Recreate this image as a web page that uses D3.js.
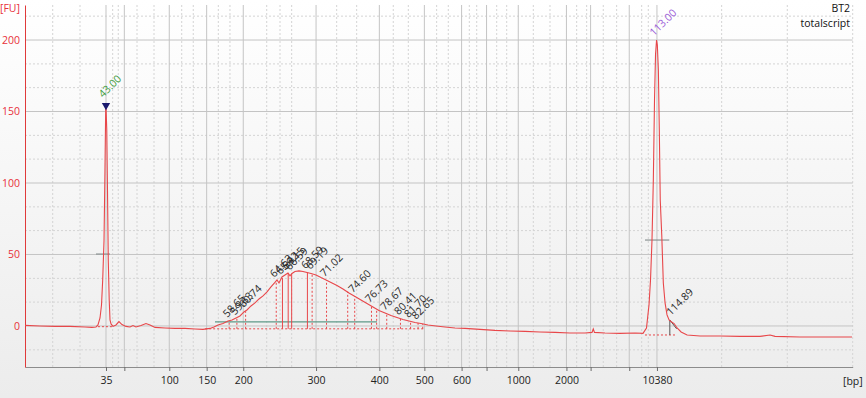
<!DOCTYPE html>
<html>
<head>
<meta charset="utf-8">
<script src="https://cdn.jsdelivr.net/npm/d3@7"></script>
<style>
body { margin: 0; background: #f0f0f0; }
text { font-family: "Open Sans", "DejaVu Sans", sans-serif; }
</style>
</head>
<body>
<script>
// electropherogram trace: migration time [s] and fluorescence [FU]
const traceTime = [32.71, 34.61, 36.52, 38.43, 40.33, 41.22, 41.73, 41.98, 42.24, 42.43, 42.58, 42.75, 42.87, 42.96, 43.00,
    43.10, 43.19, 43.29, 43.41, 43.51, 43.64, 43.89, 44.27, 44.65, 45.03, 45.54, 46.05, 46.43, 46.81, 47.45, 48.08, 48.59,
    49.23, 50.50, 51.77, 53.04, 54.31, 55.32, 56.21, 56.72, 57.23, 57.86, 58.50, 59.01, 59.52, 60.02, 60.53, 60.91, 61.42,
    61.93, 62.44, 62.95, 63.46, 63.96, 64.41, 64.73, 64.98, 65.36, 65.74, 66.12, 66.38, 66.63, 67.01, 67.52, 68.03, 68.54,
    69.05, 69.68, 70.32, 70.96, 71.59, 72.35, 73.11, 73.87, 74.64, 75.40, 76.16, 76.92, 77.68, 78.45, 79.21, 79.97, 80.73,
    81.50, 82.26, 83.02, 83.91, 84.93, 86.07, 87.34, 88.61, 90.52, 92.42, 94.33, 96.23, 98.14, 100.04, 101.95, 103.86,
    104.75, 104.91, 105.06, 106.40, 108.30, 110.21, 111.23, 111.67, 111.99, 112.18, 112.37, 112.54, 112.69, 112.82,
    112.95, 113.05, 113.18, 113.30, 113.42, 113.61, 113.81, 114.03, 114.28, 114.54, 114.86, 115.18, 115.56, 116.07,
    116.83, 118.48, 121.02, 123.55, 126.09, 127.36, 128.00, 131.17, 134.35, 137.78]
const traceFU = [0.4, 0.0, -0.3, -0.3, -0.7, -1.0, -0.7, 0.7, 5.6, 14.7, 32, 60, 109, 151, 154,
    137, 95, 46, 18, 4.2, 1.4, -0.3, 0.7, 3.1, 1.0, -0.3, -0.7, 0.3, -0.7, 0.3, 1.7, 0.7,
    -1.0, -1.4, -1.7, -1.7, -2.1, -2.4, -1.7, -0.7, 0.7, 1.7, 3.5, 4.2, 5.6, 7.0, 9.8, 11.2, 14.0,
    16.1, 18.9, 21.0, 23.8, 27.3, 30.1, 32.2, 30.1, 34.3, 35.7, 37.1, 35.0, 36.7, 38.1, 38.5, 38.1, 37.4,
    36.7, 35.7, 33.9, 32.2, 30.4, 28.3, 25.9, 23.1, 20.6, 18.2, 15.7, 13.3, 10.8, 9.1, 7.3, 5.9, 4.5,
    3.5, 2.4, 1.7, 0.7, 0.0, -0.7, -1.4, -1.7, -2.4, -3.1, -3.5, -3.8, -4.2, -4.5, -4.9, -4.9,
    -4.5, -2.1, -4.5, -4.9, -5.2, -4.9, -5.2, -1.4, 14.7, 32, 60, 102, 158, 190,
    200, 196.5, 179, 137, 88, 63.6, 30, 16.1, 7.7, 4.2, 2.8, 1.7, -1.4, -4.2,
    -6.3, -7.0, -7.0, -7.3, -7.3, -6.3, -7.3, -7.7, -7.7, -7.7]

// bp axis: ladder sizes placed at their migration times
const bpTickTime = [43.00, 45.33, 51.04, 55.79, 60.44, 69.69, 77.73, 83.45, 88.18, 91.35, 95.38, 101.50, 104.57, 109.48, 113.00]
const bpTickLabel = ["35", "", "100", "150", "200", "300", "400", "500", "600", "", "1000", "2000", "", "", "10380"]
const bpMinorTime = [36.23, 39.70, 43.85, 44.56, 46.94, 49.10, 52.62, 54.09, 57.27, 58.75, 63.42, 65.11, 66.59,
    72.31, 74.85, 79.50, 81.41, 85.01, 86.49, 89.16, 90.10, 92.64, 93.91, 97.29, 99.41, 102.80, 104.07,
    106.18, 107.88, 111.06, 111.90, 121.22, 129.56, 137.87]
const fuTicks = [0, 50, 100, 150, 200]
const fuMinor = [-16.7, 16.7, 33.3, 66.7, 83.3, 116.7, 133.3, 166.7, 183.3, 216.7]

// ladder markers
const markerTime = [43.00, 113.00]
const markerFU = [155, 201]
const markerLabel = ["43.00", "113.00"]

// smear peaks
const peakTime = [58.65, 59.63, 60.74, 64.63, 65.42, 66.15, 66.59, 68.59, 69.19, 71.02, 74.60, 76.73, 78.67, 80.41, 81.70, 82.65]
const peakFU = [3.5, 5.3, 10.3, 31.5, 33.5, 36.8, 36.5, 37.4, 37.0, 32.0, 20.8, 13.9, 8.6, 5.2, 3.3, 2.1]
const boundaryTime = [73.71, 77.39, 83.24]
const boundaryFU = [24.0, 11.5, 1.5]
const minorPeakTime = 114.89
const minorPeakFU = 4.2

// region lines: [start, end, FU]
const regionLines = [[56.85, 77.43, 2.8], [41.73, 43.51, 50.3], [111.48, 114.57, 60.1]]
const baselines = [[55.6, 83.3, -2.0], [41.98, 44.0, -0.5], [111.48, 115.5, -6.3]]

function main(){
    const width = 866
    const height = 398

    let svg = d3.select("body")
        .append('svg')
        .attr('width', width)
        .attr('height', height)

    let grad = svg.append('defs').append('linearGradient')
        .attr('id', 'bg')
        .attr('x1', 0).attr('y1', 0).attr('x2', 0).attr('y2', 1)
    grad.append('stop').attr('offset', '0%').attr('stop-color', '#ffffff')
    grad.append('stop').attr('offset', '100%').attr('stop-color', '#ececec')

    svg.append('rect')
        .attr('width', width)
        .attr('height', height)
        .attr('fill', 'url(#bg)')

    let xScale = d3.scaleLinear()
        .domain([32.71, 137.87])
        .range([25, 852.7])
    let yScale = d3.scaleLinear()
        .domain([-28.7, 224.5])
        .range([367, 5])

    // grid
    svg.append('g').selectAll('line')
        .data(fuMinor)
        .enter()
        .append('line')
        .attr('x1', 25).attr('x2', 852.7)
        .attr('y1', d => yScale(d)).attr('y2', d => yScale(d))
        .attr('stroke', '#d4d4d4')
        .attr('stroke-dasharray', '2,2')
    svg.append('g').selectAll('line')
        .data(bpMinorTime)
        .enter()
        .append('line')
        .attr('x1', d => xScale(d)).attr('x2', d => xScale(d))
        .attr('y1', 5).attr('y2', 367)
        .attr('stroke', '#d4d4d4')
        .attr('stroke-dasharray', '2,2')
    svg.append('g').selectAll('line')
        .data(fuTicks)
        .enter()
        .append('line')
        .attr('x1', 25).attr('x2', 852.7)
        .attr('y1', d => yScale(d)).attr('y2', d => yScale(d))
        .attr('stroke', '#c4c4c4')
    svg.append('g').selectAll('line')
        .data(bpTickTime)
        .enter()
        .append('line')
        .attr('x1', d => xScale(d)).attr('x2', d => xScale(d))
        .attr('y1', 5).attr('y2', 367)
        .attr('stroke', '#c4c4c4')

    // x axis
    let xAxis = d3.axisBottom(xScale)
        .tickValues(bpTickTime)
        .tickFormat((d, i) => bpTickLabel[i])
        .tickSize(4)
        .tickSizeOuter(0)
    let gx = svg.append('g')
        .attr('transform', 'translate(0,367)')
        .call(xAxis)
    gx.select('.domain').attr('stroke', '#8c8c8c')
    gx.selectAll('.tick line').attr('stroke', '#6c6c6c')
    gx.selectAll('text')
        .attr('font-family', '"Open Sans", sans-serif')
        .attr('font-size', '10.5px')
        .attr('fill', '#222')
        .attr('dy', null)
        .attr('y', 17)

    // y axis
    let yAxis = d3.axisLeft(yScale)
        .tickValues(fuTicks)
        .tickSize(0)
        .tickSizeOuter(0)
        .tickPadding(5)
    let gy = svg.append('g')
        .attr('transform', 'translate(25,0)')
        .call(yAxis)
    gy.select('.domain').attr('stroke', '#e03a3a')
    gy.selectAll('text')
        .attr('font-family', '"Open Sans", sans-serif')
        .attr('font-size', '10.5px')
        .attr('fill', '#e8303a')

    svg.append('text')
        .attr('x', 0).attr('y', 12)
        .attr('font-size', '10.5px')
        .attr('fill', '#e8303a')
        .text('[FU]')
    svg.append('text')
        .attr('x', 843).attr('y', 385)
        .attr('font-size', '10.5px')
        .attr('fill', '#222')
        .text('[bp]')
    svg.append('text')
        .attr('x', 850).attr('y', 12)
        .attr('text-anchor', 'end')
        .attr('font-size', '10.5px')
        .attr('fill', '#111')
        .text('BT2')
    svg.append('text')
        .attr('x', 850).attr('y', 27)
        .attr('text-anchor', 'end')
        .attr('font-size', '10.5px')
        .attr('fill', '#111')
        .text('totalscript')

    // region and baseline lines
    svg.append('g').selectAll('line')
        .data(baselines)
        .enter()
        .append('line')
        .attr('x1', d => xScale(d[0])).attr('x2', d => xScale(d[1]))
        .attr('y1', d => yScale(d[2])).attr('y2', d => yScale(d[2]))
        .attr('stroke', '#e8474a')
        .attr('stroke-dasharray', '2,2')
    svg.append('g').selectAll('line')
        .data(regionLines)
        .enter()
        .append('line')
        .attr('x1', d => xScale(d[0])).attr('x2', d => xScale(d[1]))
        .attr('y1', d => yScale(d[2])).attr('y2', d => yScale(d[2]))
        .attr('stroke', (d, i) => i == 0 ? '#5f9a88' : '#8c9494')
        .attr('stroke-width', 1.2)

    // peak lines
    svg.append('g').selectAll('line')
        .data(peakTime)
        .enter()
        .append('line')
        .attr('x1', d => xScale(d)).attr('x2', d => xScale(d))
        .attr('y1', yScale(-2.0))
        .attr('y2', (d, i) => yScale(peakFU[i]))
        .attr('stroke', '#e8474a')
        .attr('stroke-dasharray', d => (d > 65 && d < 69) ? null : '2,2')
    svg.append('g').selectAll('line')
        .data(boundaryTime)
        .enter()
        .append('line')
        .attr('x1', d => xScale(d)).attr('x2', d => xScale(d))
        .attr('y1', yScale(-2.0))
        .attr('y2', (d, i) => yScale(boundaryFU[i]))
        .attr('stroke', '#e8474a')
        .attr('stroke-dasharray', '2,2')
    svg.append('line')
        .attr('x1', xScale(minorPeakTime) - 2).attr('x2', xScale(minorPeakTime) - 2)
        .attr('y1', yScale(-6.3)).attr('y2', yScale(minorPeakFU))
        .attr('stroke', '#555')
    svg.append('line')
        .attr('x1', xScale(minorPeakTime) - 2).attr('x2', xScale(115.5))
        .attr('y1', yScale(minorPeakFU)).attr('y2', yScale(-2))
        .attr('stroke', '#555')

    // trace
    let line = d3.line()
        .x((d, i) => xScale(traceTime[i]))
        .y(d => yScale(d))
    svg.append('path')
        .datum(traceFU)
        .attr('d', line)
        .attr('fill', 'none')
        .attr('stroke', '#e8474a')
        .attr('stroke-width', 1.1)

    // peak labels
    svg.append('g').selectAll('text')
        .data(peakTime)
        .enter()
        .append('text')
        .attr('transform', (d, i) => 'translate(' + (xScale(d) - 2) + ',' + (yScale(peakFU[i]) - 3) + ') rotate(-45)')
        .attr('font-size', '10.5px')
        .attr('fill', '#2a2a2a')
        .text(d => d.toFixed(2))
    svg.append('text')
        .attr('transform', 'translate(' + (xScale(minorPeakTime) - 1) + ',' + (yScale(minorPeakFU) - 4) + ') rotate(-45)')
        .attr('font-size', '10.5px')
        .attr('fill', '#2a2a2a')
        .text(minorPeakTime.toFixed(2))

    // ladder markers
    svg.append('path')
        .attr('d', d3.symbol().type(d3.symbolTriangle).size(30)())
        .attr('transform', 'translate(' + xScale(markerTime[0]) + ',' + (yScale(markerFU[0]) + 1) + ') rotate(180)')
        .attr('fill', '#1a1a6e')
    svg.append('g').selectAll('text')
        .data(markerTime)
        .enter()
        .append('text')
        .attr('transform', (d, i) => 'translate(' + (xScale(d) - 3) + ',' + (yScale(markerFU[i]) - (i == 0 ? 6 : 2)) + ') rotate(-45)')
        .attr('font-size', '10.5px')
        .attr('fill', (d, i) => i == 0 ? '#3a9a3a' : '#9a5ad8')
        .text((d, i) => markerLabel[i])
}

main()
</script>
</body>
</html>
